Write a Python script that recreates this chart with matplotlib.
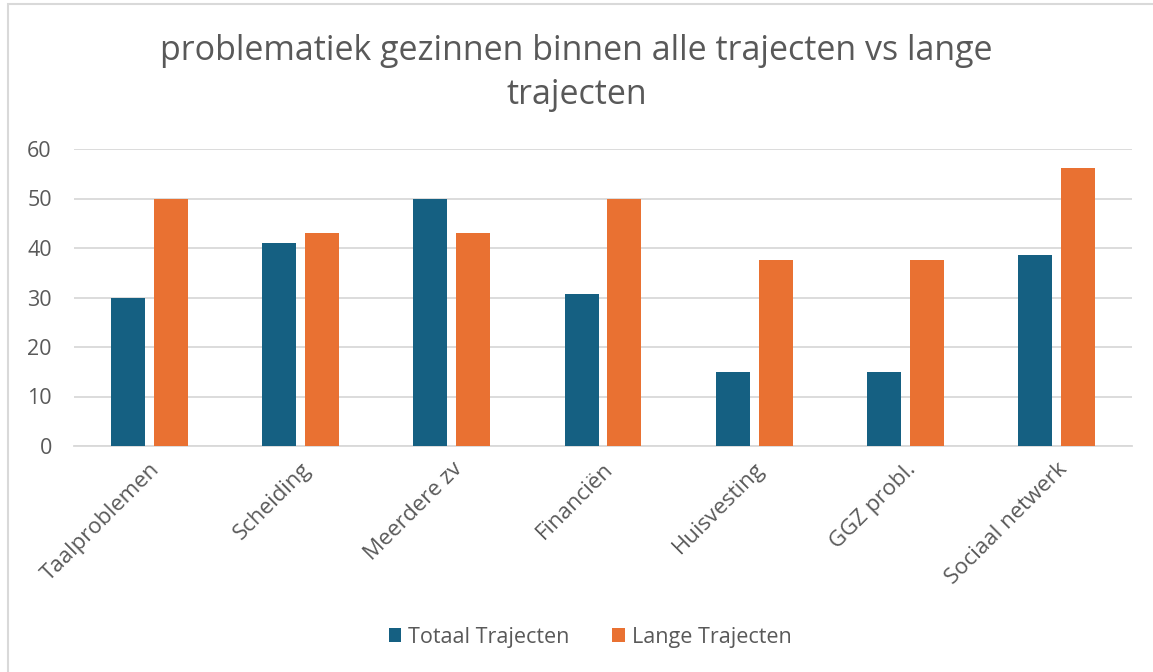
import matplotlib
matplotlib.use("Agg")
import matplotlib.pyplot as plt
import numpy as np
from matplotlib.patches import Rectangle

categories = ["Taalproblemen", "Scheiding", "Meerdere zv", "Financiën",
              "Huisvesting", "GGZ probl.", "Sociaal netwerk"]
totaal = [30, 41, 50, 30.8, 15, 15, 38.5]
lange = [50, 43, 43, 50, 37.5, 37.5, 56.2]
yticks = [0, 10, 20, 30, 40, 50, 60]

BLUE = "#156082"
ORANGE = "#E97132"
TEXT = "#595959"
GRID = "#D9D9D9"

plt.rcParams["font.family"] = ["Open Sans", "DejaVu Sans"]

W, H = 1153, 672
fig = plt.figure(figsize=(W / 100, H / 100), dpi=100)
ax = fig.add_axes([74 / W, 1 - 446 / H, (1132 - 74) / W, (446 - 149) / H])

x = np.arange(len(categories))
bw = 0.225
off = 0.142
ax.bar(x - off, totaal, bw, color=BLUE, label="Totaal Trajecten", zorder=3)
ax.bar(x + off, lange, bw, color=ORANGE, label="Lange Trajecten", zorder=3)

ax.set_xlim(-0.5, len(categories) - 0.5)
ax.set_ylim(0, 60)
ax.set_yticks(yticks)
ax.grid(axis="y", color=GRID, linewidth=1.3, zorder=0)
for s in ["top", "right", "left"]:
    ax.spines[s].set_visible(False)
ax.spines["bottom"].set_color(GRID)
ax.spines["bottom"].set_linewidth(1.3)
ax.tick_params(axis="both", length=0, labelsize=15.5, labelcolor=TEXT)
ax.tick_params(axis="y", pad=16)
ax.set_xticks(x)
ax.set_xticklabels(categories, rotation=45, ha="right", va="top",
                   rotation_mode="anchor", fontsize=16)
ax.tick_params(axis="x", pad=9)

fig.text(0.5, 1 - 51 / H, "problematiek gezinnen binnen alle trajecten vs lange",
         ha="center", va="center", fontsize=24.5, color=TEXT)
fig.text(0.5, 1 - 95 / H, "trajecten", ha="center", va="center",
         fontsize=24.5, color=TEXT)

fig.legend(loc="center", bbox_to_anchor=(590 / W, 1 - 637 / H), ncol=2,
           frameon=False, fontsize=15.5, labelcolor=TEXT, handlelength=0.6,
           handleheight=0.6, columnspacing=2.0, handletextpad=0.3)

# chart border
fig.patches.append(Rectangle((8 / W, -0.01), 1.2, 1 - 4 / H + 0.01,
                             transform=fig.transFigure, fill=False,
                             edgecolor=GRID, linewidth=1.5))

fig.savefig("out.png", dpi=100)
